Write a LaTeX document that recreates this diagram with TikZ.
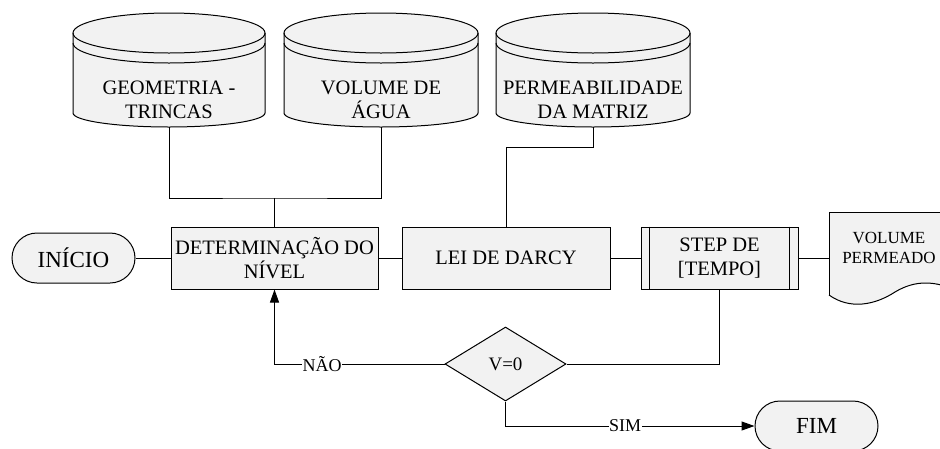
\documentclass[tikz,border=0pt]{standalone}
\usepackage{fontspec}
\setmainfont{Liberation Serif}
\usetikzlibrary{shapes.geometric,shapes.misc,arrows.meta}
\definecolor{shapefill}{HTML}{F2F2F2}
\tikzset{
  line/.style={line width=1pt, draw=black},
  procbox/.style={line, fill=shapefill, rectangle, minimum width=207pt, minimum height=62pt, inner sep=0pt, align=center, font=\fontsize{20.5}{24}\selectfont},
  termbox/.style={line, fill=shapefill, rounded rectangle, minimum width=123pt, minimum height=50pt, inner sep=0pt, font=\fontsize{23}{26}\selectfont},
  cyltext/.style={align=center, inner sep=0pt, font=\fontsize{20.5}{24}\selectfont},
  cylnode/.style={rectangle, inner sep=0pt, minimum height=114pt},
  decbox/.style={line, fill=shapefill, diamond, minimum width=121pt, minimum height=74pt, inner sep=0pt, font=\fontsize{19}{22}\selectfont},
  lbl/.style={fill=white, inner sep=0.5pt, font=\fontsize{18}{20}\selectfont},
  conn/.style={line},
  arr/.style={line, -{Triangle[length=13pt,width=9pt]}},
}
\newcommand\drawcyl[2]{%
  \pgfmathsetmacro\crx{(#2-#1)/2}%
  \pgfmathsetmacro\ccx{(#2+#1)/2}%
  \fill[shapefill] (#1,33) -- (#1,113) arc[start angle=180,end angle=360,x radius=\crx pt,y radius=14pt] -- (#2,33) arc[start angle=0,end angle=180,x radius=\crx pt,y radius=20pt] -- cycle;
  \draw[line] (\ccx,33) ellipse[x radius=\crx pt,y radius=20pt];
  \draw[line] (#1,43) arc[start angle=180,end angle=360,x radius=\crx pt,y radius=20pt];
  \draw[line] (#1,33) -- (#1,113) arc[start angle=180,end angle=360,x radius=\crx pt,y radius=14pt] -- (#2,33);
}
\begin{document}
\begin{tikzpicture}[x=1pt,y=-1pt]
\clip (0,0) rectangle (940,448);
\fill[white] (0,0) rectangle (940,448);

% cylinders
\drawcyl{73}{265}
\drawcyl{284}{478}
\drawcyl{496}{690}
\node[cylnode, minimum width=192pt] (c1) at (169,70) {};
\node[cylnode, minimum width=194pt] (c2) at (381,70) {};
\node[cylnode, minimum width=194pt] (c3) at (593,70) {};
\node[cyltext] (c1t) at (169,100) {GEOMETRIA -\\TRINCAS};
\node[cyltext] (c2t) at (381,100) {VOLUME DE\\ÁGUA};
\node[cyltext] (c3t) at (593,100) {PERMEABILIDADE\\DA MATRIZ};

% process row
\node[termbox] (ini) at (73.5,258) {INÍCIO};
\node[procbox] (det) at (274.5,258) {DETERMINAÇÃO DO\\NÍVEL};
\node[procbox, minimum width=208pt] (lei) at (506,258) {LEI DE DARCY};
\node[procbox, minimum width=157pt] (step) at (719.5,258) {STEP DE\\{}[TEMPO]};
\draw[line] ([xshift=9pt]step.north west) -- ([xshift=9pt]step.south west);
\draw[line] ([xshift=-9pt]step.north east) -- ([xshift=-9pt]step.south east);

% document shape
\fill[shapefill] (829,295) -- (829,212) -- (960,212) -- (960,292)
  .. controls (935,280) and (915,280) .. (895,292)
  .. controls (875,305) and (850,310) .. (829,295) -- cycle;
\draw[line] (829,295) -- (829,212) -- (960,212);
\draw[line] (829,295) .. controls (850,310) and (875,305) .. (895,292)
  .. controls (915,280) and (935,280) .. (960,292);
\node[align=center, inner sep=0pt, minimum width=120pt, minimum height=80pt, font=\fontsize{17}{20}\selectfont] (vol) at (889,248) {VOLUME\\PERMEADO};

% decision and end
\node[decbox] (dia) at (505.5,364) {V=0};
\node[termbox] (fim) at (816.5,426) {FIM};

% connectors
\coordinate (j1) at (det.north |- 0,198);
\draw[conn] (c1.south) |- (j1) -| (c2.south);
\draw[conn] (j1) -- (det.north);
\draw[conn] (c3.south) -- ++(0,20) -| (lei.north);
\draw[conn] (ini.east) -- (det.west);
\draw[conn] (det.east) -- (lei.west);
\draw[conn] (lei.east) -- (step.west);
\draw[conn] (step.east) -- (step.east -| vol.west);
\draw[conn] (step.south) |- (dia.east);
\draw[arr] (dia.west) -| node[lbl, pos=0.36] {NÃO} (det.south);
\draw[arr] (dia.south) |- node[lbl, pos=0.74] {SIM} (fim.west);
\end{tikzpicture}
\end{document}
